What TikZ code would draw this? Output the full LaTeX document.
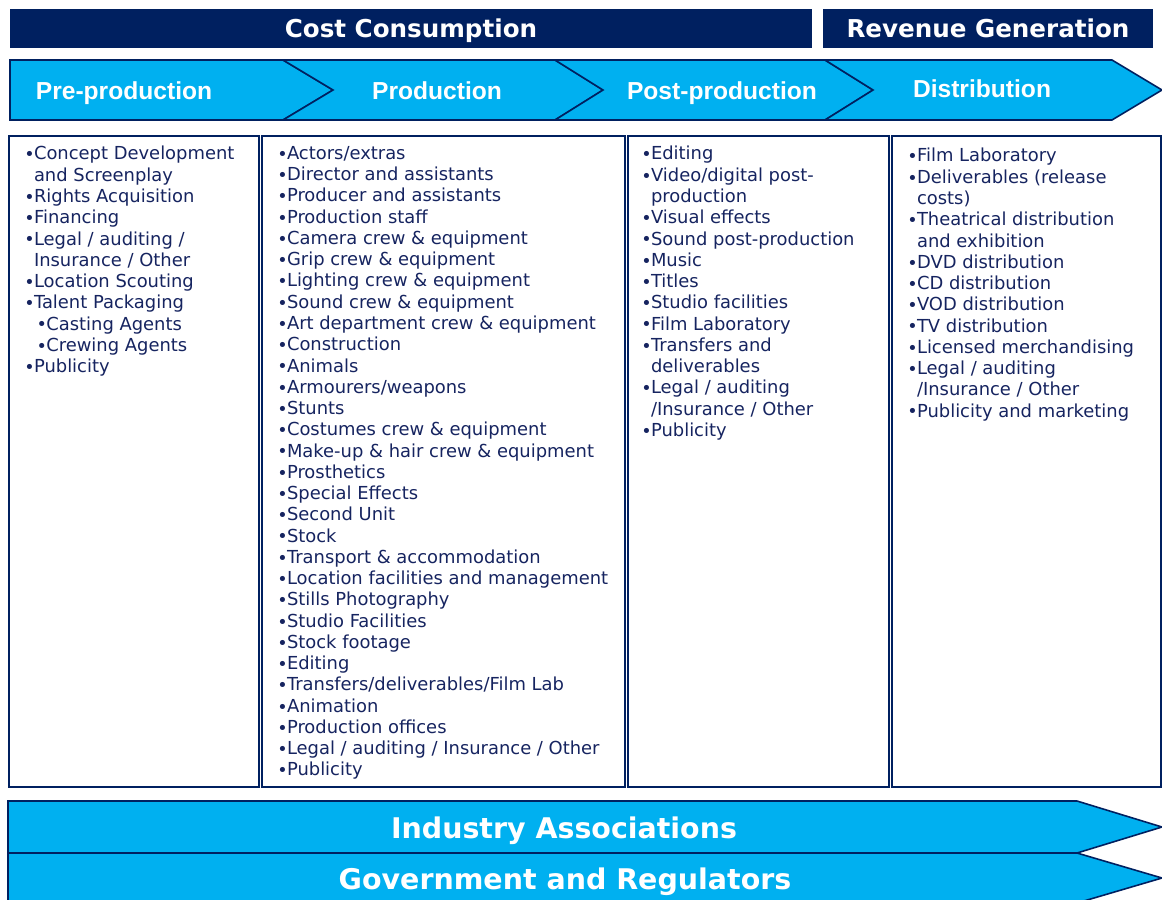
\documentclass[tikz,border=0pt]{standalone}
\usepackage{fontspec}
\setmainfont{DejaVu Sans}
\newfontfamily\arialfont{Liberation Sans}
\definecolor{navy}{RGB}{0,32,96}
\definecolor{cyanfill}{RGB}{0,176,240}
\definecolor{itemtext}{RGB}{22,36,96}
\newcommand\blt{\makebox[5.5pt][l]{\raisebox{-0.5pt}{\fontsize{10}{10}\selectfont\textbullet}}}
\newcommand\ind{\hspace*{5.5pt}}
\newcommand\sblt{\hspace*{7pt}\blt}
\begin{document}
\begin{tikzpicture}[x=0.02cm,y=-0.02cm,
  bar/.style={fill=navy,draw=none},
  chev/.style={fill=cyanfill,draw=navy,line width=0.9pt,line join=miter},
  colbox/.style={draw=navy,line width=1.1pt,fill=white},
  hdr/.style={anchor=base,text=white,font=\fontsize{14}{16}\selectfont\bfseries},
  stage/.style={anchor=base,text=white,font=\arialfont\fontsize{14}{16}\selectfont\bfseries},
  band/.style={anchor=base,text=white,font=\fontsize{16.2}{18}\selectfont\bfseries},
  items/.style={anchor=north west,align=left,inner sep=0pt,text=itemtext,font=\fontsize{10.2}{12.1}\selectfont}]
\useasboundingbox (0,0) rectangle (1162,899);
\fill[bar] (10,9) rectangle (812,48);
\fill[bar] (823,9) rectangle (1153,48);
\node[hdr] (cost) at (411,37.5) {Cost Consumption};
\node[hdr] (revenue) at (988,37.5) {Revenue Generation};
\draw[chev] (10,60) -- (283,60) -- (333,90) -- (283,120) -- (10,120) -- cycle;
\draw[chev] (283,60) -- (555,60) -- (603,90) -- (555,120) -- (283,120) -- (333,90) -- cycle;
\draw[chev] (555,60) -- (825,60) -- (873,90) -- (825,120) -- (555,120) -- (603,90) -- cycle;
\draw[chev] (825,60) -- (1112,60) -- (1162,90) -- (1112,120) -- (825,120) -- (873,90) -- cycle;
\node[stage] (pre) at (124,99) {Pre-production};
\node[stage] (prod) at (437,99) {Production};
\node[stage] (post) at (722,99) {Post-production};
\node[stage] (dist) at (982,97) {Distribution};
\draw[colbox] (9,136) rectangle (259,787);
\draw[colbox] (262,136) rectangle (625,787);
\draw[colbox] (628,136) rectangle (889,787);
\draw[colbox] (892,136) rectangle (1161,787);
\node[items] (prelist) at (24,146) {\blt Concept Development\\ \ind and Screenplay\\ \blt Rights Acquisition\\ \blt Financing\\ \blt Legal / auditing /\\ \ind Insurance / Other\\ \blt Location Scouting\\ \blt Talent Packaging\\ \sblt Casting Agents\\ \sblt Crewing Agents\\ \blt Publicity};
\node[items] (prodlist) at (277,146) {\blt Actors/extras\\ \blt Director and assistants\\ \blt Producer and assistants\\ \blt Production staff\\ \blt Camera crew \& equipment\\ \blt Grip crew \& equipment\\ \blt Lighting crew \& equipment\\ \blt Sound crew \& equipment\\ \blt Art department crew \& equipment\\ \blt Construction\\ \blt Animals\\ \blt Armourers/weapons\\ \blt Stunts\\ \blt Costumes crew \& equipment\\ \blt Make-up \& hair crew \& equipment\\ \blt Prosthetics\\ \blt Special Effects\\ \blt Second Unit\\ \blt Stock\\ \blt Transport \& accommodation\\ \blt Location facilities and management\\ \blt Stills Photography\\ \blt Studio Facilities\\ \blt Stock footage\\ \blt Editing\\ \blt Transfers/deliverables/Film Lab\\ \blt Animation\\ \blt Production offices\\ \blt Legal / auditing / Insurance / Other\\ \blt Publicity};
\node[items] (postlist) at (641,146) {\blt Editing\\ \blt Video/digital post-\\ \ind production\\ \blt Visual effects\\ \blt Sound post-production\\ \blt Music\\ \blt Titles\\ \blt Studio facilities\\ \blt Film Laboratory\\ \blt Transfers and\\ \ind deliverables\\ \blt Legal / auditing\\ \ind /Insurance / Other\\ \blt Publicity};
\node[items] (distlist) at (907,148) {\blt Film Laboratory\\ \blt Deliverables (release\\ \ind costs)\\ \blt Theatrical distribution\\ \ind and exhibition\\ \blt DVD distribution\\ \blt CD distribution\\ \blt VOD distribution\\ \blt TV distribution\\ \blt Licensed merchandising\\ \blt Legal / auditing\\ \ind /Insurance / Other\\ \blt Publicity and marketing};
\draw[chev] (8,853) -- (1077,853) -- (1162,878) -- (1077,903) -- (8,903) -- cycle;
\draw[chev] (8,801) -- (1077,801) -- (1162,827) -- (1077,853) -- (8,853) -- cycle;
\node[band] (assoc) at (564,838.5) {Industry Associations};
\node[band] (gov) at (565,889.5) {Government and Regulators};
\end{tikzpicture}
\end{document}
